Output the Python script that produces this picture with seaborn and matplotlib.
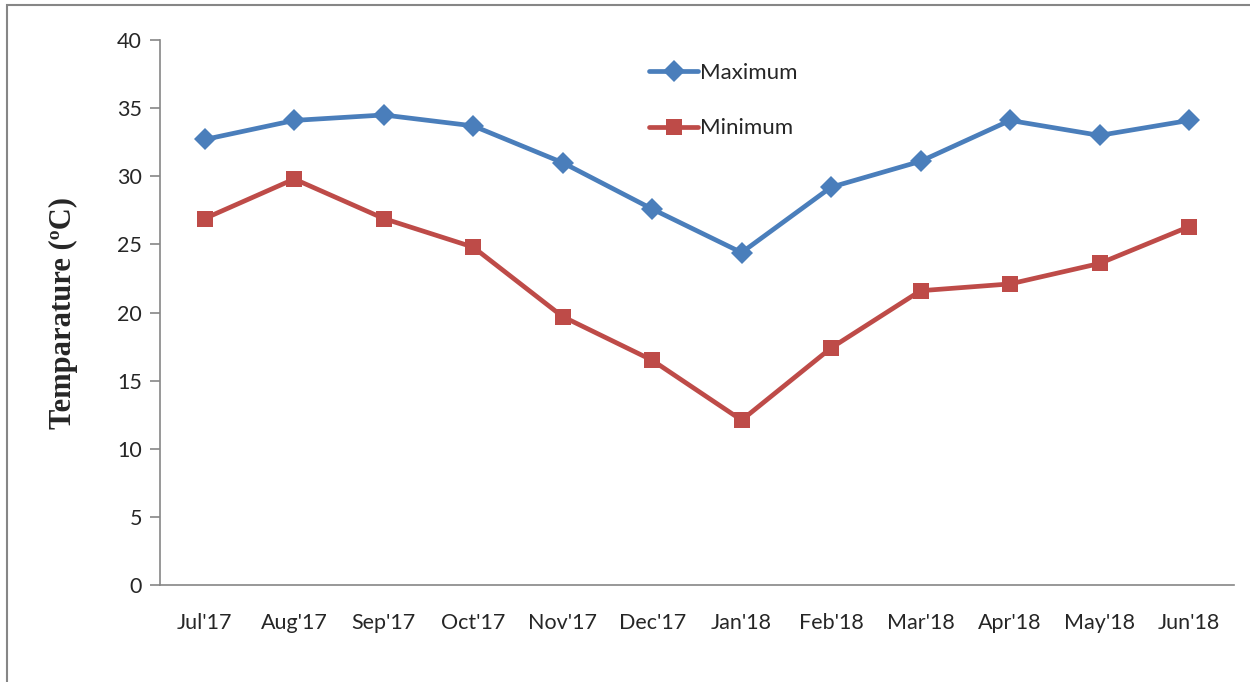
import pandas as pd
import numpy as np
import matplotlib
matplotlib.use('Agg')
import matplotlib.pyplot as plt
import seaborn as sns
from matplotlib.patches import Rectangle

# Data
months = ["Jul'17", "Aug'17", "Sep'17", "Oct'17", "Nov'17", "Dec'17",
          "Jan'18", "Feb'18", "Mar'18", "Apr'18", "May'18", "Jun'18"]
t_max = [32.7, 34.1, 34.5, 33.7, 31.0, 27.6, 24.4, 29.2, 31.1, 34.1, 33.0, 34.1]
t_min = [26.9, 29.8, 26.9, 24.8, 19.7, 16.5, 12.1, 17.4, 21.6, 22.1, 23.6, 26.3]

df = pd.DataFrame({'Month': months * 2,
                   'Temp': t_max + t_min,
                   'Series': ['Maximum'] * 12 + ['Minimum'] * 12})

sns.set_style('white')
plt.rcParams['font.family'] = ['Lato', 'DejaVu Sans']

fig = plt.figure(figsize=(12.5, 6.82), dpi=100)
ax = fig.add_axes([0.128, 0.1422, 0.859, 0.7991])

palette = {'Maximum': '#4A7EBB', 'Minimum': '#BE4B48'}
sns.lineplot(data=df, x='Month', y='Temp', hue='Series', style='Series',
             markers={'Maximum': 'D', 'Minimum': 's'}, dashes=False,
             palette=palette, linewidth=3.4, markersize=11.5,
             markeredgewidth=0, ax=ax, sort=False)

ax.set_xlim(-0.5, 11.5)
ax.set_ylim(0, 40)
ax.set_yticks(range(0, 41, 5))
ax.set_xticks(range(12))
ax.set_xticklabels(months)
ax.set_xticks(np.arange(-0.5, 12, 1), minor=True)
ax.tick_params(axis='x', which='major', length=0, pad=20, labelsize=15.5)
ax.tick_params(axis='x', which='minor', length=7, width=1.2, color='#868686', direction='out')
ax.tick_params(axis='y', length=7, width=1.2, color='#868686', direction='out',
               labelsize=15.5, pad=6, left=True)

for s in ['top', 'right']:
    ax.spines[s].set_visible(False)
for s in ['left', 'bottom']:
    ax.spines[s].set_color('#868686')
    ax.spines[s].set_linewidth(1.2)

ax.set_xlabel('')
ax.set_ylabel('Temparature (ºC)', fontsize=22, fontweight='bold',
              family='Liberation Serif', labelpad=28)

leg = ax.legend(loc='upper left', bbox_to_anchor=(0.437, 0.995), frameon=False,
                fontsize=16, labelspacing=1.6, handlelength=2.2, handletextpad=0.1)

# outer border of the figure
fig.patches.append(Rectangle((0.0056, -0.05), 1.2, 1.043, transform=fig.transFigure,
                             fill=False, edgecolor='#868686', linewidth=1.5))

fig.savefig('out.png', dpi=100)
